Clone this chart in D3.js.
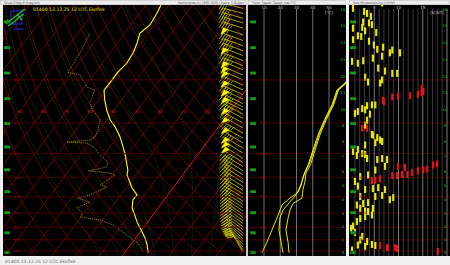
<!DOCTYPE html>
<html>
<head>
<meta charset="utf-8">
<script src="https://cdnjs.cloudflare.com/ajax/libs/d3/7.8.5/d3.min.js"></script>
<style>
body { margin: 0; background: #f0f0f0; }
svg { display: block; }
text { font-family: "DejaVu Sans", sans-serif; }
</style>
</head>
<body>
<svg id="chart" width="450" height="265"></svg>
<script>
// ---- data ----
var stationTitle = "01400 13.12.25 12 UTC Ekofisk";

// temperature profile (hPa, degC)
var tempP = [1016, 945, 885, 836, 761, 667, 619, 590, 553, 489, 467, 398, 342, 311, 291, 266, 240, 220, 200, 186, 171, 155, 141, 129, 119, 107, 97];
var tempT = [10.0, 7.1, 4.0, 0.8, -4.5, -11.1, -13.3, -13.2, -17.5, -23.8, -25.0, -31.7, -38.9, -44.2, -48.6, -53.1, -57.5, -60.7, -60.5, -60.5, -59.5, -60.1, -61.6, -63.5, -61.8, -62.6, -63.7];

// dewpoint profile (hPa, degC)
var dewP = [1009, 927, 877, 821, 783, 747, 726, 700, 667, 631, 607, 590, 548, 537, 489, 480, 471, 454, 433, 405, 380, 362, 359, 352, 342, 320, 291, 266, 249, 220, 214, 191, 186, 155, 141, 129];
var dewT = [7.6, 2.6, -2.8, -9.3, -13.8, -21.0, -30.5, -30.5, -34.7, -31.0, -37.8, -33.2, -28.5, -32.1, -28.9, -31.7, -41.7, -34.9, -36.1, -41.7, -46.1, -51.1, -60.0, -50.8, -49.6, -50.6, -52.9, -59.1, -62.6, -64.6, -68.9, -75.8, -81.8, -82.8, -83.8, -84.9];

// wind (hPa, direction deg, speed kt)
var windP = [102, 107, 112, 117, 123, 131, 138, 145, 152, 159, 167, 175, 182, 191, 200, 210, 220, 230, 240, 250, 258, 266, 276, 287, 300, 314, 330, 346, 362, 380, 398, 418, 435, 452, 470, 488, 506, 525, 545, 565, 585, 605, 625, 645, 665, 686, 707, 728, 750, 772, 795, 818, 842, 866, 890, 915, 940, 965, 990, 1012];
var windDir = [284, 285, 286, 287, 288, 289, 290, 290, 291, 291, 292, 292, 293, 293, 294, 294, 295, 295, 296, 296, 297, 297, 298, 298, 299, 299, 300, 300, 301, 301, 302, 302, 302, 302, 302, 302, 302, 302, 302, 302, 302, 302, 302, 303, 303, 304, 304, 305, 305, 306, 306, 307, 308, 310, 312, 315, 318, 322, 326, 330];
var windSpd = [30, 35, 35, 40, 45, 55, 45, 45, 45, 55, 45, 45, 55, 60, 60, 45, 60, 45, 65, 45, 60, 45, 45, 60, 45, 55, 45, 55, 45, 55, 55, 50, 45, 45, 40, 40, 40, 40, 40, 40, 40, 35, 35, 35, 35, 35, 35, 35, 35, 35, 35, 35, 35, 30, 30, 30, 30, 25, 25, 20];

// potential temperatures (hPa, degC)
var thetaP = [1016, 920, 821, 733, 648, 608, 575, 540, 498, 445, 386, 336, 291, 253, 220, 206, 195];
var theta = [8.8, 11.8, 14.9, 18.0, 21.1, 26.0, 31.0, 32.8, 34.0, 37.1, 40.2, 43.2, 47.2, 51.8, 54.9, 59.8, 63.0];
var thetaEP = [1016, 920, 821, 733, 680, 630, 590, 560, 520, 480, 445, 386, 336, 291, 253, 220, 206, 195];
var thetaE = [21.7, 20.5, 19.2, 19.8, 21.7, 26.0, 29.7, 31.5, 33.4, 35.0, 37.6, 40.7, 43.7, 47.7, 52.3, 55.4, 60.3, 63.5];
var thetaESP = [1016, 920, 821, 733, 680, 640, 608, 560, 520, 480, 445, 386, 336, 291, 253, 220, 206, 195];
var thetaES = [25.4, 24.8, 23.5, 24.8, 26.0, 27.8, 33.4, 34.0, 35.2, 35.8, 38.6, 41.5, 44.4, 48.3, 52.8, 55.8, 60.7, 64.0];

// vertical wind shear (hPa, value)
var shearYellowP = [97, 102, 105, 107, 110, 116, 117, 119, 122, 123, 126, 128, 132, 133, 137, 139, 144, 147, 150, 151, 155, 155, 160, 163, 167, 168, 171, 179, 184, 188, 188, 195, 200, 204, 206,
    253, 253, 255, 262, 265, 269, 274, 276, 292, 306, 334, 336, 344, 352, 357, 361, 369, 385, 392, 400, 403, 407, 419, 419, 423, 423, 451, 467, 489, 496, 520, 543, 551, 556, 561, 561,
    593, 599, 599, 605, 617, 634, 640, 649, 670, 670, 686, 690, 713, 723, 737, 758, 791, 809, 840, 872, 902, 915, 941, 945, 950, 959, 991];
var shearYellow = [6.6, 0.6, 2.9, 3.5, 4.3, 2.7, 3.9, 4.5, 2.5, 0.6, 3.1, 5.4, 1.6, 2.3, 0.6, 3.9, 4.9, 6.8, 5.6, 8.7, 8.2, 10.3, 6.6, 4.7, 2.7, 0.4, 1.6, 5.8, 7.2, 8.7, 9.7, 3.1, 6.6, 3.7, 6.2,
    4.5, 5.2, 3.5, 2.5, 3.1, 1.6, 1.0, 4.1, 3.5, 3.1, 4.5, 4.7, 5.6, 6.2, 6.6, 5.2, 3.1, 1.6, 0.6, 2.5, 3.1, 1.4, 3.5, 6.6, 5.6, 7.6, 7.2, 5.2, 3.7, 2.1, 1.0, 1.6, 5.8, 4.7, 3.1, 7.2,
    6.6, 2.1, 5.2, 8.9, 8.2, 3.7, 2.7, 1.4, 2.1, 4.7, 3.1, 3.7, 4.5, 3.1, 2.1, 1.4, 0.6, 0.2, 1.0, 2.5, 2.1, 3.5, 4.5, 1.6, 5.2, 3.1, 0.4];
var shearRedP = [216, 223, 225, 229, 232, 233, 235, 242, 246, 315, 315, 441, 445, 451, 456, 463, 465, 470, 478, 487, 487, 492, 492, 506, 513, 516, 950, 968, 968, 968, 977, 1005];
var shearRed = [14.8, 15.1, 14.8, 14.0, 12.4, 9.9, 8.7, 6.8, 7.0, 2.5, 3.5, 17.9, 17.1, 9.9, 11.3, 15.9, 15.1, 14.0, 12.8, 10.7, 11.8, 8.7, 9.7, 6.2, 5.2, 4.5, 6.2, 7.6, 7.8, 9.3, 9.7, 18.1];

// grids and axes
var pressureLines = [1000, 900, 800, 700, 600, 500, 400, 300, 200];
var isotherms = [-130, -120, -110, -100, -90, -80, -70, -60, -50, -40, -30, -20, -10, 0, 10, 20, 30, 40, 50];
var isothermLabels = [-90, -80, -70, -60, -50, -40, -30, -20, -10];
var dryAdiabats = [-50, -40, -30, -20, -10, 0, 10, 20, 30, 40, 50, 60, 70, 80, 90, 100, 110, 120, 130, 140, 150, 160, 170, 180, 190, 200];
var moistAdiabats = [-12, -4, 4, 12, 20, 28, 36];
var flightLevels = [0, 50, 100, 150, 200, 250, 300, 350, 400, 450, 500];
var heightsKm = [0, 1, 2, 3, 4, 5, 6, 7, 8, 9, 10, 11, 12, 13, 14, 15, 16];
var thetaTicks = [10, 20, 30, 40, 50];
var shearTicks = [5, 10, 15];
var shearGrid = [1, 2, 3, 4, 5, 6, 7, 8, 9, 10, 11, 12, 13, 14, 15, 16, 17, 18, 19, 20];

// ---- scales ----
var yP = d3.scaleLog().domain([1000, 100]).range([251, 6.24]);
var tX = d3.scaleLinear().domain([-60, 40]).range([-14.4, 219.6]);
var skew = 0.746;
function skewX(t, p) {
    return tX(t) + skew * (yP(1000) - yP(p));
}
var thX = d3.scaleLinear().domain([0, 60]).range([247.75, 345.25]);
var shX = d3.scaleLinear().domain([0, 20]).range([350, 447]);

// standard atmosphere, km -> hPa
function kmToP(h) {
    var m = h * 1000;
    if (m <= 11000) return 1013.25 * Math.pow(1 - 2.25577e-5 * m, 5.25588);
    return 226.32 * Math.exp(-(m - 11000) / 6341.6);
}

var svg = d3.select("#chart");

// ---- frame ----
svg.append("rect").attr("x", 0).attr("y", 0).attr("width", 450).attr("height", 265).attr("fill", "#f0f0f0");
var panels = [[3, 243], [248, 98], [349, 101]];
panels.forEach(function (pn) {
    svg.append("rect").attr("x", pn[0]).attr("y", 5).attr("width", pn[1]).attr("height", 251).attr("fill", "#000");
});
svg.append("line").attr("x1", 247).attr("x2", 247).attr("y1", 5).attr("y2", 256).attr("stroke", "#9a9a9a");

// top bar
svg.append("rect").attr("x", 0).attr("y", 0).attr("width", 450).attr("height", 5).attr("fill", "#ececec");
[[0, 247], [248, 98], [349, 101]].forEach(function (b) {
    svg.append("rect").attr("x", b[0] + 0.5).attr("y", 0.5).attr("width", b[1] - 1).attr("height", 4)
        .attr("fill", "none").attr("stroke", "#b8b8b8").attr("stroke-width", 0.5);
});
var topTexts = [[4, "Skew-T/log-P Diagram", 36], [178, "Netherlands (c) 1995-2025 | Suore: || Ruldon", 66], [252, "Tpot_Tepot_Tepot_sat /°C", 44], [353, "Vert.Windscherung (1/h/M)", 42]];
topTexts.forEach(function (t) {
    svg.append("text").attr("x", t[0]).attr("y", 4).attr("font-size", 3.4).attr("fill", "#555")
        .attr("textLength", t[2]).attr("lengthAdjust", "spacingAndGlyphs").text(t[1]);
});
svg.append("text").attr("x", 5).attr("y", 263).attr("font-size", 4.5).attr("fill", "#666").text(stationTitle);

// ---- skew-T panel ----
svg.append("clipPath").attr("id", "clip1").append("rect").attr("x", 3).attr("y", 5).attr("width", 243).attr("height", 251);
var g1 = svg.append("g").attr("clip-path", "url(#clip1)");

var pGrid = [1060];
for (var pp = 1050; pp >= 95; pp -= 5) pGrid.push(pp);

var lineTP = d3.line().x(function (d) { return skewX(d[1], d[0]); }).y(function (d) { return yP(d[0]); });

// moist adiabats
function moistPath(tw) {
    var Rd = 287.04, cp = 1005.7, L = 2.501e6, eps = 0.622;
    function grad(p, T) {
        var tc = T - 273.15;
        var es = 6.112 * Math.exp(17.67 * tc / (tc + 243.5));
        var rs = eps * es / (p - es);
        return (Rd * T + L * rs) / (p * (cp + L * L * rs * eps / (Rd * T * T)));
    }
    var pts = [];
    var T = tw + 273.15, p = 1000, dp = 2;
    while (p > 95) {
        pts.push([p, T - 273.15]);
        T -= grad(p, T) * dp;
        p -= dp;
    }
    T = tw + 273.15; p = 1000;
    var low = [];
    while (p < 1060) {
        T += grad(p, T) * dp;
        p += dp;
        low.unshift([p, T - 273.15]);
    }
    return low.concat(pts);
}
g1.selectAll(".moist").data(moistAdiabats).enter().append("path")
    .attr("d", function (tw) { return lineTP(moistPath(tw)); })
    .attr("fill", "none").attr("stroke", "#0a460a").attr("stroke-width", 0.8).attr("stroke-dasharray", "2,1");

// dry adiabats
g1.selectAll(".dry").data(dryAdiabats).enter().append("path")
    .attr("d", function (th) {
        return lineTP(pGrid.map(function (p) { return [p, (th + 273.15) * Math.pow(p / 1000, 0.2857) - 273.15]; }));
    })
    .attr("fill", "none").attr("stroke", "#7a0a0a").attr("stroke-width", 0.8);

// isotherms
g1.selectAll(".iso").data(isotherms).enter().append("line")
    .attr("x1", function (t) { return skewX(t, 1060); }).attr("y1", yP(1060))
    .attr("x2", function (t) { return skewX(t, 95); }).attr("y2", yP(95))
    .attr("stroke", function (t) { return t === 0 ? "#ee1010" : "#7a0a0a"; })
    .attr("stroke-width", function (t) { return t === 0 ? 1 : 0.8; });

// pressure lines across all panels
pressureLines.forEach(function (p) {
    panels.forEach(function (pn) {
        svg.append("line").attr("x1", pn[0]).attr("x2", pn[0] + pn[1]).attr("y1", yP(p)).attr("y2", yP(p))
            .attr("stroke", "#560000").attr("stroke-width", 0.8);
    });
});

// isotherm labels
g1.selectAll(".isolab").data(isothermLabels).enter().append("text")
    .attr("x", function (t) { return skewX(t, 270); }).attr("y", yP(270) + 1.5)
    .attr("text-anchor", "middle").attr("font-size", 4).attr("fill", "#d01818")
    .text(function (t) { return t; });

// temperature and dewpoint
var tempData = tempP.map(function (p, i) { return [p, tempT[i]]; });
var dewData = dewP.map(function (p, i) { return [p, dewT[i]]; });
g1.append("path").attr("d", lineTP(dewData)).attr("fill", "none").attr("stroke", "#a89a10")
    .attr("stroke-width", 0.9).attr("stroke-dasharray", "1,1");
g1.append("path").attr("d", lineTP(tempData)).attr("fill", "none").attr("stroke", "#ffff00").attr("stroke-width", 1.1);

// wind barbs
function barb(x, y, dir, spd) {
    var a = dir * Math.PI / 180;
    var ux = Math.sin(a), uy = -Math.cos(a);
    var px = uy, py = -ux;
    var len = 21;
    var tx = x + ux * len, ty = y + uy * len;
    var line = "M" + x + "," + y + "L" + tx + "," + ty;
    var flags = "";
    var s = Math.round(spd / 5) * 5, pos = 0;
    while (s >= 50) {
        var bx = tx - ux * pos, by = ty - uy * pos;
        flags += "M" + bx + "," + by + "L" + (bx + px * 7) + "," + (by + py * 7) +
            "L" + (tx - ux * (pos + 5)) + "," + (ty - uy * (pos + 5)) + "Z";
        pos += 6; s -= 50;
    }
    while (s >= 10) {
        var fx = tx - ux * pos, fy = ty - uy * pos;
        line += "M" + fx + "," + fy + "L" + (fx + px * 7 + ux * 2) + "," + (fy + py * 7 + uy * 2);
        pos += 2.5; s -= 10;
    }
    if (s >= 5) {
        if (pos === 0) pos = 2.5;
        var hx = tx - ux * pos, hy = ty - uy * pos;
        line += "M" + hx + "," + hy + "L" + (hx + px * 3.5 + ux) + "," + (hy + py * 3.5 + uy);
    }
    return [line, flags];
}
var gw = g1.append("g");
windP.forEach(function (p, i) {
    var b = barb(243, yP(p), windDir[i], windSpd[i]);
    gw.append("path").attr("d", b[0]).attr("fill", "none").attr("stroke", "#e0e000").attr("stroke-width", 0.7);
    if (b[1]) gw.append("path").attr("d", b[1]).attr("fill", "#ffff00").attr("stroke", "#ffff00").attr("stroke-width", 0.5);
});

// header and logo
g1.append("text").attr("x", 33).attr("y", 11).attr("font-size", 4.6).attr("fill", "#e0e000").text(stationTitle);
g1.append("rect").attr("x", 11).attr("y", 11).attr("width", 11).attr("height", 13).attr("fill", "none").attr("stroke", "#1a2aff").attr("stroke-width", 1);
g1.append("path").attr("d", "M6,24 L12,19 L16,16 L21,12 L25,9 M8,26 L14,22 L18,18 L24,14 M10,22 L7,20 M17,14 L22,20")
    .attr("fill", "none").attr("stroke", "#20c020").attr("stroke-width", 1.4);
g1.append("line").attr("x1", 14).attr("x2", 24).attr("y1", 29).attr("y2", 29).attr("stroke", "#1a2aff");

// ---- theta panel ----
svg.append("clipPath").attr("id", "clip2").append("rect").attr("x", 248).attr("y", 5).attr("width", 98).attr("height", 251);
var g2 = svg.append("g").attr("clip-path", "url(#clip2)");
g2.selectAll(".tg").data(thetaTicks).enter().append("line")
    .attr("x1", function (d) { return thX(d); }).attr("x2", function (d) { return thX(d); })
    .attr("y1", 9).attr("y2", 256).attr("stroke", "#8a8a8a").attr("stroke-width", 0.8);
g2.selectAll(".tl").data(thetaTicks).enter().append("text")
    .attr("x", function (d) { return thX(d); }).attr("y", 8.5).attr("text-anchor", "middle")
    .attr("font-size", 4).attr("fill", "#c8c8c8").text(function (d) { return d; });
g2.append("text").attr("x", thX(50)).attr("y", 14).attr("text-anchor", "middle").attr("font-size", 4).attr("fill", "#c8c8c8").text("[°C]");
var lineTh = d3.line().x(function (d) { return thX(d[1]); }).y(function (d) { return yP(d[0]); });
[[thetaP, theta], [thetaEP, thetaE], [thetaESP, thetaES]].forEach(function (c) {
    g2.append("path").attr("d", lineTh(c[0].map(function (p, i) { return [p, c[1][i]]; })))
        .attr("fill", "none").attr("stroke", "#ffff00").attr("stroke-width", 0.9);
});

// ---- shear panel ----
svg.append("clipPath").attr("id", "clip3").append("rect").attr("x", 349).attr("y", 5).attr("width", 101).attr("height", 251);
var g3 = svg.append("g").attr("clip-path", "url(#clip3)");
g3.selectAll(".sg").data(shearGrid).enter().append("line")
    .attr("x1", function (d) { return shX(d); }).attr("x2", function (d) { return shX(d); })
    .attr("y1", 9).attr("y2", 256)
    .attr("stroke", function (d) { return d % 5 === 0 ? "#9a9a9a" : "#4a4a4a"; }).attr("stroke-width", 0.8);
g3.selectAll(".sl").data(shearTicks).enter().append("text")
    .attr("x", function (d) { return shX(d); }).attr("y", 8.5).attr("text-anchor", "middle")
    .attr("font-size", 4).attr("fill", "#c8c8c8").text(function (d) { return d; });
g3.append("text").attr("x", 437).attr("y", 14).attr("text-anchor", "middle").attr("font-size", 4).attr("fill", "#c8c8c8").text("[kt/kft]");
function shearBars(ps, vs, col) {
    g3.selectAll(null).data(ps).enter().append("rect")
        .attr("x", function (p, i) { return shX(vs[i]) - 1; })
        .attr("y", function (p) { return yP(p) - 3.5; })
        .attr("width", 2.2).attr("height", 7).attr("fill", col);
}
shearBars(shearYellowP, shearYellow, "#e6e600");
shearBars(shearRedP, shearRed, "#ee1010");

// ---- labels: pressure, flight levels, km ----
pressureLines.forEach(function (p) {
    [17, 263, 363].forEach(function (x) {
        svg.append("text").attr("x", x).attr("y", yP(p) + 1.3).attr("text-anchor", "middle")
            .attr("font-size", 3.6).attr("fill", "#7a0a0a").text(p);
    });
});
flightLevels.forEach(function (fl) {
    var y = yP(kmToP(fl * 0.3048 / 10));
    [7, 253, 353].forEach(function (x) {
        svg.append("rect").attr("x", x - 3).attr("y", y - 1.6).attr("width", 6).attr("height", 3.2).attr("fill", "#0a6a0a");
        svg.append("text").attr("x", x).attr("y", y + 1.2).attr("text-anchor", "middle")
            .attr("font-size", 3).attr("fill", "#40e040").text(fl);
    });
});
heightsKm.forEach(function (h) {
    var y = yP(kmToP(h));
    [343, 445].forEach(function (x) {
        svg.append("text").attr("x", x).attr("y", y + 1.4).attr("text-anchor", "middle")
            .attr("font-size", 3.8).attr("fill", "#30c030").text(h);
    });
});
</script>
</body>
</html>
